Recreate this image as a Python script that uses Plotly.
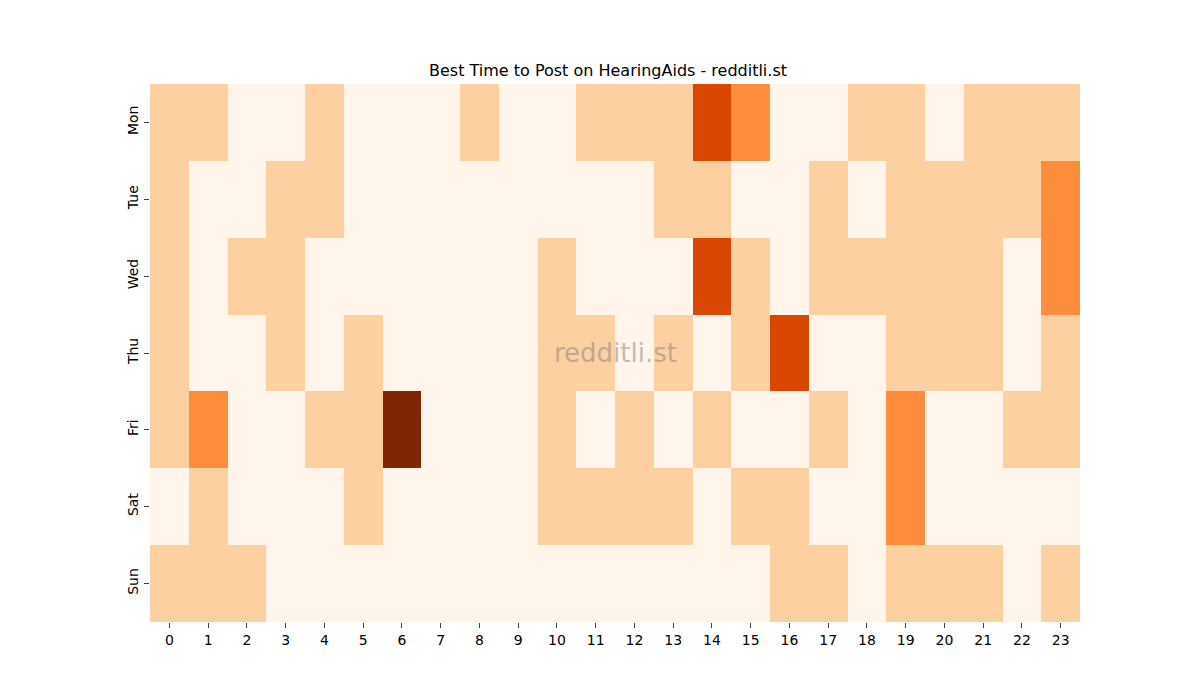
import plotly.graph_objects as go

days = ["Mon", "Tue", "Wed", "Thu", "Fri", "Sat", "Sun"]
hours = list(range(24))

# post score per day (rows) and hour (cols)
mon = [1, 1, 0, 0, 1, 0, 0, 0, 1, 0, 0, 1, 1, 1, 3, 2, 0, 0, 1, 1, 0, 1, 1, 1]
tue = [1, 0, 0, 1, 1, 0, 0, 0, 0, 0, 0, 0, 0, 1, 1, 0, 0, 1, 0, 1, 1, 1, 1, 2]
wed = [1, 0, 1, 1, 0, 0, 0, 0, 0, 0, 1, 0, 0, 0, 3, 1, 0, 1, 1, 1, 1, 1, 0, 2]
thu = [1, 0, 0, 1, 0, 1, 0, 0, 0, 0, 1, 1, 0, 1, 0, 1, 3, 0, 0, 1, 1, 1, 0, 1]
fri = [1, 2, 0, 0, 1, 1, 4, 0, 0, 0, 1, 0, 1, 0, 1, 0, 0, 1, 0, 2, 0, 0, 1, 1]
sat = [0, 1, 0, 0, 0, 1, 0, 0, 0, 0, 1, 1, 1, 1, 0, 1, 1, 0, 0, 2, 0, 0, 0, 0]
sun = [1, 1, 1, 0, 0, 0, 0, 0, 0, 0, 0, 0, 0, 0, 0, 0, 1, 1, 0, 1, 1, 1, 0, 1]

z = [mon, tue, wed, thu, fri, sat, sun]

oranges = [
    [0.0, "#fff5eb"],
    [0.25, "#fdd0a2"],
    [0.5, "#fd8d3c"],
    [0.75, "#d94801"],
    [1.0, "#7f2704"],
]

fig = go.Figure(go.Heatmap(
    z=z, x=hours, y=days,
    colorscale=oranges, zmin=0, zmax=4,
    showscale=False, hoverongaps=False,
))

fig.update_layout(
    width=1200, height=700,
    paper_bgcolor="white", plot_bgcolor="white",
    margin=dict(l=142, r=128, t=76, b=86),
    font=dict(family="DejaVu Sans", size=14, color="black"),
    title=dict(text="Best Time to Post on HearingAids - redditli.st",
               x=0.5, xanchor="center", y=1 - 62 / 700, yanchor="middle",
               font=dict(size=16)),
    annotations=[dict(
        text="redditli.st", x=0.5, y=0.5, xref="paper", yref="paper",
        showarrow=False, font=dict(size=26, color="rgba(128,128,128,0.5)"),
    )],
)
fig.update_xaxes(tickmode="array", tickvals=hours, ticks="outside", ticklen=5,
                 showgrid=False, zeroline=False, showline=False)
fig.update_yaxes(autorange="reversed", ticks="outside", ticklen=5, tickangle=-90,
                 showgrid=False, zeroline=False, showline=False)

fig.write_html("out.html")
